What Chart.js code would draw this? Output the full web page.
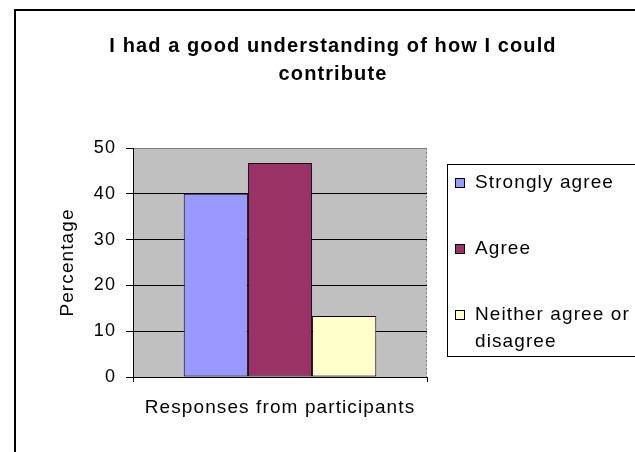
<!DOCTYPE html>
<html>
<head>
<meta charset="utf-8">
<script src="https://cdn.jsdelivr.net/npm/chart.js@4.4.0/dist/chart.umd.min.js"></script>
<style>
  html, body { margin: 0; padding: 0; background: #fff; overflow: hidden; }
  canvas { display: block; }
</style>
</head>
<body>
<canvas id="c" width="635" height="452"></canvas>
<script>
// ---- data ----
const chartTitle = ['I had a good understanding of how I could', 'contribute'];
const categories = [''];
const seriesNames = ['Strongly agree', 'Agree', 'Neither agree or disagree'];
const stronglyAgree = [40];
const agree = [46.7];
const neither = [13.3];
const seriesValues = [stronglyAgree, agree, neither];
const seriesColors = ['#9999FF', '#993366', '#FFFFCC'];
const yTicks = [0, 10, 20, 30, 40, 50];
const xAxisTitle = 'Responses from participants';
const yAxisTitle = 'Percentage';

// ---- styling ----
const FAMILY = '"Liberation Sans", Arial, sans-serif';
const SPACING = '1.1px';

const spacingPlugin = {
  id: 'spacing',
  beforeUpdate(c) { c.ctx.letterSpacing = SPACING; },
  beforeLayout(c) { c.ctx.letterSpacing = SPACING; },
  beforeDraw(c) { c.ctx.letterSpacing = SPACING; }
};

const framePlugin = {
  id: 'frame',
  beforeDraw(c) {
    const { ctx, chartArea: a } = c;
    ctx.save();
    ctx.fillStyle = '#fff';
    ctx.fillRect(0, 0, c.width, c.height);
    ctx.strokeStyle = '#000';
    ctx.lineWidth = 2;
    ctx.beginPath();
    ctx.moveTo(15, 470);
    ctx.lineTo(15, 10);
    ctx.lineTo(650, 10);
    ctx.stroke();
    ctx.fillStyle = '#C0C0C0';
    ctx.fillRect(a.left, a.top, a.right - a.left, a.bottom - a.top);
    ctx.strokeStyle = '#808080';
    ctx.lineWidth = 1;
    ctx.setLineDash([2, 2]);
    ctx.beginPath();
    ctx.moveTo(a.right - 0.5, a.top);
    ctx.lineTo(a.right - 0.5, a.bottom);
    ctx.stroke();
    ctx.restore();
  }
};

const legendPlugin = {
  id: 'boxLegend',
  afterDraw(c, args, o) {
    const ctx = c.ctx;
    ctx.save();
    ctx.letterSpacing = SPACING;
    ctx.strokeStyle = '#000';
    ctx.lineWidth = 1;
    ctx.strokeRect(o.left + 0.5, o.top + 0.5, o.width, o.height);
    ctx.font = o.fontSize + 'px ' + FAMILY;
    ctx.textBaseline = 'middle';
    ctx.textAlign = 'left';
    c.data.datasets.forEach((ds, i) => {
      const y = o.rows[i];
      ctx.fillStyle = ds.backgroundColor;
      ctx.fillRect(o.left + o.boxX, y - o.box / 2, o.box, o.box);
      ctx.strokeStyle = '#000';
      ctx.strokeRect(o.left + o.boxX + 0.5, y - o.box / 2 + 0.5, o.box - 1, o.box - 1);
      // wrap label
      const words = ds.label.split(' ');
      const lines = [];
      let cur = '';
      words.forEach(w => {
        const t = cur ? cur + ' ' + w : w;
        if (ctx.measureText(t).width > o.maxText && cur) { lines.push(cur); cur = w; }
        else cur = t;
      });
      if (cur) lines.push(cur);
      ctx.fillStyle = '#000';
      lines.forEach((ln, j) => ctx.fillText(ln, o.left + o.textX, y + j * o.lineGap));
    });
    ctx.restore();
  }
};

new Chart(document.getElementById('c'), {
  type: 'bar',
  data: {
    labels: categories,
    datasets: seriesNames.map((n, i) => ({
      label: n,
      data: seriesValues[i],
      backgroundColor: seriesColors[i],
      borderColor: '#000',
      borderWidth: 1,
      borderSkipped: false,
      categoryPercentage: 0.655,
      barPercentage: 1,
      xAxisID: 'x',
      yAxisID: 'y'
    }))
  },
  options: {
    responsive: false,
    animation: false,
    devicePixelRatio: 1,
    layout: { padding: { left: 31, right: 0, top: 0, bottom: 0 } },
    plugins: {
      legend: { display: false },
      tooltip: { enabled: false },
      title: {
        display: true,
        text: chartTitle,
        color: '#000',
        font: { family: FAMILY, size: 20, weight: 'bold', lineHeight: '28px' },
        padding: { top: 32, bottom: 60 }
      },
      boxLegend: {
        left: 447, top: 164, width: 200, height: 192,
        rows: [183, 249, 315], lineGap: 27,
        box: 10, boxX: 8, textX: 28, maxText: 160, fontSize: 19
      }
    },
    scales: {
      x: {
        grid: { display: true, drawOnChartArea: false, drawTicks: true, tickLength: 5, color: '#000', offset: true },
        border: { display: true, color: '#000' },
        ticks: { display: false },
        title: {
          display: true, text: xAxisTitle, color: '#000',
          font: { family: FAMILY, size: 19 },
          padding: { top: 0, bottom: 33 }
        },
        afterFit(s) { s.height = 75; }
      },
      y: {
        min: 0, max: 50,
        afterBuildTicks(s) { s.ticks = yTicks.map(v => ({ value: v })); },
        ticks: { color: '#000', font: { family: FAMILY, size: 18 }, padding: 10 },
        grid: {
          color: (ctx) => (ctx.tick && ctx.tick.value === 50) ? '#808080' : '#000',
          tickColor: '#000',
          tickLength: 7
        },
        border: { display: true, color: '#000' },
        title: {
          display: true, text: yAxisTitle, color: '#000',
          font: { family: FAMILY, size: 19 },
          padding: { top: 25, bottom: 0 }
        },
        afterFit(s) { s.width = 102; }
      },
      yR: {
        position: 'right',
        display: true,
        grid: { display: false },
        ticks: { display: false },
        border: { display: false },
        afterFit(s) { s.width = 208; }
      }
    }
  },
  plugins: [spacingPlugin, framePlugin, legendPlugin]
});
</script>
</body>
</html>
